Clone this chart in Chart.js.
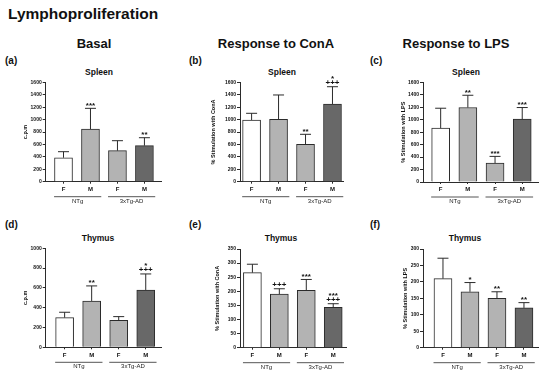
<!DOCTYPE html>
<html>
<head>
<meta charset="utf-8">
<script src="https://cdn.jsdelivr.net/npm/chart.js@4.4.0/dist/chart.umd.min.js"></script>
<style>
  body { margin: 0; background: #fff; }
  #page { position: relative; width: 550px; height: 375px; overflow: hidden;
          font-family: "Liberation Sans", Arial, sans-serif; color: #111; }
  .txt { position: absolute; white-space: nowrap; font-weight: bold; line-height: 1;
         transform: translate(-50%, -50%); }
  .txt.left { transform: translate(0, -50%); }
  .box { position: absolute; }
</style>
</head>
<body>
<div id="page">
  <div class="txt left" style="left:8px;top:14px;font-size:15.5px">Lymphoproliferation</div>
  <div class="txt" style="left:94px;top:43px;font-size:13px">Basal</div>
  <div class="txt" style="left:276px;top:43px;font-size:13px">Response to ConA</div>
  <div class="txt" style="left:456px;top:43px;font-size:13px">Response to LPS</div>

  <div class="txt left" style="left:5px;top:61px;font-size:10px">(a)</div>
  <div class="txt left" style="left:189px;top:61px;font-size:10px">(b)</div>
  <div class="txt left" style="left:370px;top:61px;font-size:10px">(c)</div>
  <div class="txt left" style="left:5px;top:225px;font-size:10px">(d)</div>
  <div class="txt left" style="left:189px;top:225px;font-size:10px">(e)</div>
  <div class="txt left" style="left:370px;top:225px;font-size:10px">(f)</div>

  <div class="txt" style="left:99px;top:72px;font-size:8.5px">Spleen</div>
  <div class="txt" style="left:282px;top:72px;font-size:8.5px">Spleen</div>
  <div class="txt" style="left:466px;top:72px;font-size:8.5px">Spleen</div>
  <div class="txt" style="left:98px;top:238px;font-size:8.5px">Thymus</div>
  <div class="txt" style="left:281px;top:238px;font-size:8.5px">Thymus</div>
  <div class="txt" style="left:465px;top:238px;font-size:8.5px">Thymus</div>
</div>
<script>
// Categories
const sexLabels = ["F", "M", "F", "M"];
const genotypeLabels = ["NTg", "3xTg-AD"];

// (a) Spleen, basal (c.p.m): means, error (SEM above mean), significance marks (bottom row first)
const spleenBasal = [386, 848, 499, 580];
const spleenBasalErr = [97, 333, 161, 128];
const spleenBasalSig = [[], ["***"], [], ["**"]];

// (b) Spleen, % stimulation with ConA
const spleenConA = [993, 1004, 602, 1251];
const spleenConAErr = [108, 392, 161, 278];
const spleenConASig = [[], [], ["**"], ["+++", "*"]];

// (c) Spleen, % stimulation with LPS
const spleenLPS = [864, 1195, 304, 1008];
const spleenLPSErr = [320, 197, 107, 187];
const spleenLPSSig = [[], ["**"], ["***"], ["***"]];

// (d) Thymus, basal (c.p.m)
const thymusBasal = [300, 468, 273, 579];
const thymusBasalErr = [54, 152, 37, 162];
const thymusBasalSig = [[], ["**"], [], ["+++", "*"]];

// (e) Thymus, % stimulation with ConA
const thymusConA = [266, 190, 203, 143];
const thymusConAErr = [30, 19, 39, 13];
const thymusConASig = [[], ["+++"], ["***"], ["+++", "***"]];

// (f) Thymus, % stimulation with LPS
const thymusLPS = [210, 170, 150, 121];
const thymusLPSErr = [62, 28, 20, 16];
const thymusLPSSig = [[], ["*"], ["**"], ["**"]];

// bar fills: NTg F, NTg M, 3xTg F, 3xTg M
const barFills = ["#ffffff", "#b3b3b3", "#b3b3b3", "#686868"];
const FONT = "'Liberation Sans', Arial, sans-serif";

// panel layout: box = canvas [left, top, w, h], area = chart area [left, top, right, bottom] in page px
const panels = [
  { box: [0, 66, 175, 144], area: [45.7, 82.3, 161.7, 181.7], xr: [-0.66, 3.64],
    values: spleenBasal, err: spleenBasalErr, sig: spleenBasalSig,
    yMax: 1600, step: 200, yTitle: "c.p.m", titleX: 25 },
  { box: [180, 66, 175, 144], area: [240, 82.3, 343, 181.7], xr: [-0.43, 3.39],
    values: spleenConA, err: spleenConAErr, sig: spleenConASig,
    yMax: 1600, step: 200, yTitle: "% Stimulation with ConA", titleX: 213 },
  { box: [360, 66, 190, 144], area: [423, 82.3, 538, 182], xr: [-0.65, 3.58],
    values: spleenLPS, err: spleenLPSErr, sig: spleenLPSSig,
    yMax: 1600, step: 200, yTitle: "% Stimulation with LPS", titleX: 403 },
  { box: [0, 232, 175, 143], area: [45.7, 248.3, 161.7, 347.3], xr: [-0.7, 3.59],
    values: thymusBasal, err: thymusBasalErr, sig: thymusBasalSig,
    yMax: 1000, step: 200, yTitle: "c.p.m", titleX: 25 },
  { box: [180, 232, 175, 143], area: [240, 249, 346.7, 347.7], xr: [-0.46, 3.5],
    values: thymusConA, err: thymusConAErr, sig: thymusConASig,
    yMax: 350, step: 50, yTitle: "% Stimulation with ConA", titleX: 217 },
  { box: [360, 232, 190, 143], area: [423, 249, 538, 347.7], xr: [-0.74, 3.52],
    values: thymusLPS, err: thymusLPSErr, sig: thymusLPSSig,
    yMax: 300, step: 50, yTitle: "% Stimulation with LPS", titleX: 405 },
];

// Error bars, significance marks and genotype group lines
const annotPlugin = {
  id: "annot",
  afterDatasetsDraw(chart) {
    const ctx = chart.ctx;
    const ds = chart.data.datasets[0];
    const meta = chart.getDatasetMeta(0);
    const yScale = chart.scales.y;
    const xScale = chart.scales.x;
    ctx.save();
    ctx.strokeStyle = "#2b2b2b";
    ctx.lineWidth = 1;
    ctx.fillStyle = "#111";
    ctx.textAlign = "center";
    ctx.textBaseline = "alphabetic";
    ctx.font = "bold 8px " + FONT;
    meta.data.forEach((bar, i) => {
      const capY = yScale.getPixelForValue(ds.data[i].y + ds.err[i]);
      ctx.beginPath();
      ctx.moveTo(bar.x, bar.y);
      ctx.lineTo(bar.x, capY);
      ctx.moveTo(bar.x - 5.5, capY);
      ctx.lineTo(bar.x + 5.5, capY);
      ctx.stroke();
      ds.sig[i].forEach((mark, k) => {
        const center = capY - 5 - k * 5.5;
        const rise = mark[0] === "*" ? 0.56 : 0.36;
        ctx.fillText(mark, bar.x, center + rise * 8);
      });
    });
    // genotype groups under the x labels
    const lineY = chart.chartArea.bottom + 15;
    ctx.strokeStyle = "#555";
    ctx.font = "6px " + FONT;
    ctx.fillStyle = "#222";
    ctx.textBaseline = "middle";
    genotypeLabels.forEach((g, gi) => {
      const x0 = xScale.getPixelForValue(gi * 2 - 0.35);
      const x1 = xScale.getPixelForValue(gi * 2 + 1.4);
      ctx.beginPath();
      ctx.moveTo(x0, lineY);
      ctx.lineTo(x1, lineY);
      ctx.stroke();
      ctx.fillText(g, (x0 + x1) / 2, lineY + 4.5);
    });
    ctx.restore();
  },
};

function makePanel(p) {
  const [left, top, w, h] = p.box;
  const [aL, aT, aR, aB] = p.area;
  const div = document.createElement("div");
  div.className = "box";
  div.style.left = left + "px";
  div.style.top = top + "px";
  const canvas = document.createElement("canvas");
  canvas.width = w;
  canvas.height = h;
  div.appendChild(canvas);
  document.getElementById("page").appendChild(div);

  return new Chart(canvas, {
    type: "bar",
    data: {
      datasets: [
        {
          data: p.values.map((v, i) => ({ x: i, y: v })),
          err: p.err,
          sig: p.sig,
          backgroundColor: barFills,
          borderColor: "#2b2b2b",
          borderWidth: 1,
          barThickness: 18,
        },
      ],
    },
    options: {
      responsive: false,
      animation: false,
      devicePixelRatio: 1,
      layout: { padding: { left: 0, top: aT - top, right: left + w - aR, bottom: 0 } },
      plugins: { legend: { display: false }, tooltip: { enabled: false } },
      scales: {
        x: {
          type: "linear",
          bounds: "data",
          offset: false,
          min: p.xr[0],
          max: p.xr[1],
          afterBuildTicks: (s) => {
            s.ticks = sexLabels.map((_, i) => ({ value: i }));
          },
          afterFit: (s) => {
            s.height = top + h - aB;
          },
          grid: { drawOnChartArea: false, offset: false, tickLength: 2, color: "#2b2b2b" },
          border: { color: "#2b2b2b", width: 1 },
          ticks: {
            autoSkip: false,
            maxRotation: 0,
            padding: 2,
            color: "#111",
            font: { family: FONT, size: 6, weight: "bold" },
            callback: (v) => sexLabels[v],
          },
        },
        y: {
          min: 0,
          max: p.yMax,
          afterFit: (s) => {
            s.width = aL - left;
          },
          grid: { drawOnChartArea: false, tickLength: 3, color: "#2b2b2b" },
          border: { color: "#2b2b2b", width: 1 },
          ticks: {
            stepSize: p.step,
            padding: 1,
            color: "#111",
            font: { family: FONT, size: 5, weight: "bold" },
            callback: (v) => String(v),
          },
          title: {
            display: true,
            text: p.yTitle,
            color: "#111",
            font: { family: FONT, size: 5.5, weight: "bold" },
            padding: { top: p.titleX - left - 3.3, bottom: 0 },
          },
        },
      },
    },
    plugins: [annotPlugin],
  });
}

panels.forEach(makePanel);
</script>
</body>
</html>
